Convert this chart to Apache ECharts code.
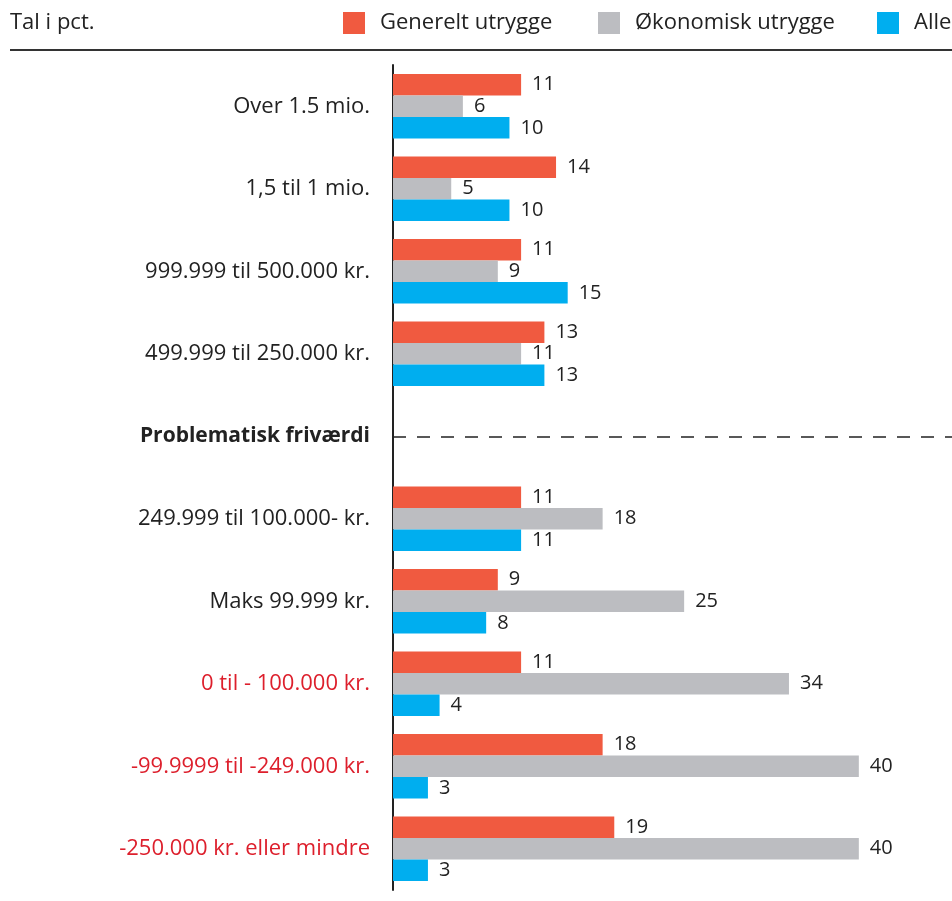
<!DOCTYPE html>
<html>
<head>
<meta charset="utf-8">
<script src="https://cdn.jsdelivr.net/npm/echarts@6/dist/echarts.min.js"></script>
<style>
  html, body { margin: 0; padding: 0; background: #fff; }
  #chart { width: 952px; height: 901px; }
</style>
</head>
<body>
<div id="chart"></div>
<script>
// Tal i pct. - utryghed fordelt på friværdi
const categories = [
  'Over 1.5 mio.',
  '1,5 til 1 mio.',
  '999.999 til 500.000 kr.',
  '499.999 til 250.000 kr.',
  'Problematisk friværdi',
  '249.999 til 100.000- kr.',
  'Maks 99.999 kr.',
  '0 til - 100.000 kr.',
  '-99.9999 til -249.000 kr.',
  '-250.000 kr. eller mindre'
];
const seriesNames = ['Generelt utrygge', 'Økonomisk utrygge', 'Alle'];
const generelt = [11, 14, 11, 13, null, 11, 9, 11, 18, 19];
const oekonomisk = [6, 5, 9, 11, null, 18, 25, 34, 40, 40];
const alle = [10, 10, 15, 13, null, 11, 8, 4, 3, 3];

const separator = 'Problematisk friværdi';
const negativeRows = ['0 til - 100.000 kr.', '-99.9999 til -249.000 kr.', '-250.000 kr. eller mindre'];

const colors = ['#f05a40', '#bcbdc1', '#00aeef'];
const font = 'Open Sans';
const dark = '#222222';

const chart = echarts.init(document.getElementById('chart'));

const yData = categories.map(c => {
  if (c === separator) return { value: c, textStyle: { fontWeight: 'bold', color: dark, fontSize: 21 } };
  if (negativeRows.includes(c)) return { value: c, textStyle: { color: '#dd1f2c' } };
  return c;
});

const valueLabel = {
  show: true,
  position: 'right',
  distance: 11,
  color: dark,
  fontFamily: font,
  fontSize: 20
};

function makeSeries(name, data, idx) {
  const s = {
    name: name,
    type: 'bar',
    data: data,
    barGap: '0%',
    barCategoryGap: '21.6%',
    itemStyle: { color: colors[idx] },
    label: valueLabel,
    silent: true
  };
  // middle bar sits on the category centre, so the separator line goes here
  if (idx === 1) {
    s.markLine = {
      symbol: 'none',
      silent: true,
      label: { show: false },
      lineStyle: { color: dark, type: [13, 11], width: 1.5 },
      data: [{ yAxis: separator }]
    };
  }
  return s;
}

const legendX = [343, 598, 877];

const option = {
  animation: false,
  backgroundColor: '#fff',
  textStyle: { fontFamily: font },
  title: {
    text: 'Tal i pct.',
    left: 10,
    top: 12,
    padding: 0,
    textStyle: { fontFamily: font, fontSize: 22, fontWeight: 'normal', color: dark }
  },
  legend: seriesNames.map((n, i) => ({
    data: [n],
    left: legendX[i],
    top: 12,
    padding: 0,
    itemWidth: 22,
    itemHeight: 22,
    itemGap: 0,
    icon: 'rect',
    selectedMode: false,
    textStyle: { fontFamily: font, fontSize: 22, color: dark, padding: [0, 0, 0, 10] }
  })),
  graphic: [{
    type: 'line',
    shape: { x1: 10, y1: 50, x2: 952, y2: 50 },
    style: { stroke: '#333', lineWidth: 2 },
    silent: true
  }],
  grid: {
    left: 393,
    right: 0,
    top: 65,
    bottom: 11,
    containLabel: false
  },
  xAxis: {
    type: 'value',
    min: 0,
    max: 48,
    show: false,
    splitLine: { show: false }
  },
  yAxis: {
    type: 'category',
    inverse: true,
    data: yData,
    axisTick: { show: false },
    axisLine: { lineStyle: { color: dark, width: 2 } },
    axisLabel: {
      margin: 23,
      fontFamily: font,
      fontSize: 22,
      color: dark
    }
  },
  series: [
    makeSeries(seriesNames[0], generelt, 0),
    makeSeries(seriesNames[1], oekonomisk, 1),
    makeSeries(seriesNames[2], alle, 2)
  ]
};

chart.setOption(option);
</script>
</body>
</html>
